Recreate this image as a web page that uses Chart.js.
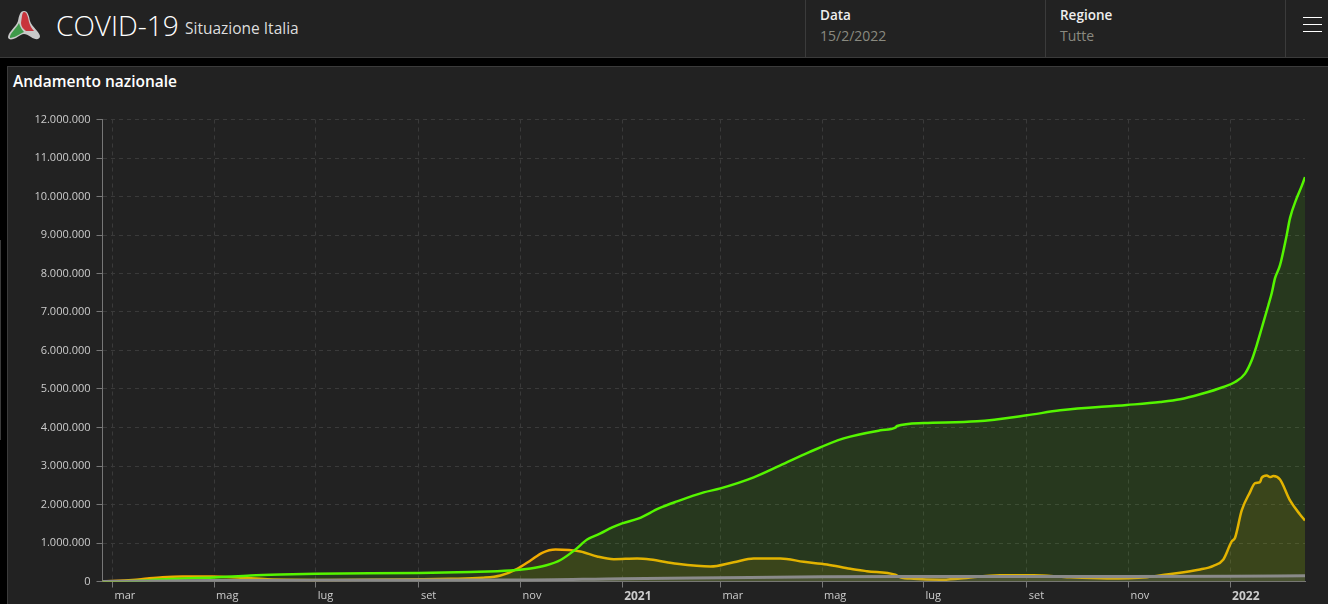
<!DOCTYPE html>
<html>
<head>
<meta charset="utf-8">
<title>COVID-19 Situazione Italia</title>
<script src="https://cdn.jsdelivr.net/npm/chart.js@4"></script>
<style>
    html, body { margin: 0; padding: 0; width: 1328px; height: 604px; overflow: hidden; background: #000; font-family: 'Open Sans', sans-serif; }
    .abs { position: absolute; white-space: nowrap; }
    #header { position: absolute; left: 0; top: 0; width: 1328px; height: 57px; background: #222; border-bottom: 1px solid #3b3b3b; }
    .divider { position: absolute; top: 0; width: 1px; height: 57px; background: #3b3b3b; }
    .burger { position: absolute; left: 1303px; width: 19px; height: 1px; background: #fff; }
    #panel { position: absolute; left: 7px; top: 66px; width: 1321px; height: 538px; background: #222; border-left: 1px solid #3b3b3b; border-top: 1px solid #3b3b3b; }
    #edge { position: absolute; left: 0; top: 240px; width: 1px; height: 200px; background: #3b3b3b; }
    #wrap { position: absolute; left: 8px; top: 100px; width: 1320px; height: 504px; }
</style>
</head>
<body>
<div id="header">
    <svg class="abs" style="left:7px;top:10px" width="34" height="31" viewBox="0 0 34 31">
        <path d="M17 1 C21 1 22 6 23 11 C25 17 32 21 33 26 C33 30 28 30 24 27 C21 25 19 24 17 24 C15 24 12 26 9 28 C5 30 1 30 1 27 C2 21 9 17 11 11 C12 6 13 1 17 1 Z" fill="#c9c9c9"/>
        <path d="M17 2 C20 2 21 7 22 12 C23 16 25 19 27 21 L19 21 C16 19 14 16 14 13 C15 7 15 2 17 2 Z" fill="#c8343c"/>
        <path d="M12 13 C13 17 15 20 17 22 C13 24 7 28 3 28 C2 24 9 19 12 13 Z" fill="#3f9a4a"/>
    </svg>
    <div class="abs" style="left:56px;top:7px;font-size:28px;line-height:36px;font-weight:300;color:#fff">COVID-19</div>
    <div class="abs" style="left:185px;top:17px;font-size:15.5px;line-height:22px;color:#ddd">Situazione Italia</div>
    <div class="divider" style="left:805px"></div>
    <div class="divider" style="left:1045px"></div>
    <div class="divider" style="left:1285px"></div>
    <div class="abs" style="left:820px;top:6px;font-size:13.5px;line-height:18px;font-weight:600;color:#eee">Data</div>
    <div class="abs" style="left:820px;top:27px;font-size:14px;line-height:18px;color:#8a8a80">15/2/2022</div>
    <div class="abs" style="left:1060px;top:6px;font-size:13.5px;line-height:18px;font-weight:600;color:#eee">Regione</div>
    <div class="abs" style="left:1060px;top:27px;font-size:14px;line-height:18px;color:#8a8a80">Tutte</div>
    <div class="burger" style="top:17px"></div>
    <div class="burger" style="top:24px"></div>
    <div class="burger" style="top:31px"></div>
</div>
<div id="edge"></div>
<div id="panel">
    <div class="abs" style="left:5px;top:4px;font-size:15.5px;line-height:20px;font-weight:600;color:#fff">Andamento nazionale</div>
</div>
<div id="wrap"><canvas id="chart"></canvas></div>

<script>
// x values are days since 24/2/2020
const monthDays = [6, 67, 128, 190, 251, 312, 371, 432, 493, 555, 616, 677];
const monthLabels = ['mar', 'mag', 'lug', 'set', 'nov', '2021', 'mar', 'mag', 'lug', 'set', 'nov', '2022'];
const yTickLabels = ['0', '1.000.000', '2.000.000', '3.000.000', '4.000.000', '5.000.000', '6.000.000',
    '7.000.000', '8.000.000', '9.000.000', '10.000.000', '11.000.000', '12.000.000'];

const greenDays = [0, 17, 40, 67, 89, 107, 128, 190, 221, 245, 257, 266, 275, 284, 291, 299, 306, 312, 322, 334, 345,
    361, 371, 391, 407, 424, 445, 467, 476, 477, 493, 525, 555, 575, 615, 635, 647, 659, 673, 680, 686, 690, 693, 696,
    700, 702, 704, 707, 711, 713, 717, 720, 722];
const greenValues = [0, 13000, 65000, 104000, 156000, 182000, 203000, 221000, 247000, 286000, 338000, 416000, 559000,
    832000, 1092000, 1248000, 1404000, 1508000, 1638000, 1898000, 2080000, 2314000, 2418000, 2704000, 3016000, 3354000,
    3718000, 3926000, 3996000, 4038000, 4116000, 4160000, 4316000, 4446000, 4584000, 4662000, 4732000, 4862000, 5052000,
    5182000, 5400000, 5746000, 6136000, 6578000, 7176000, 7488000, 7878000, 8216000, 8996000, 9438000, 9958000, 10270000,
    10504000];

const orangeDays = [0, 18, 27, 36, 48, 66, 83, 99, 138, 209, 228, 239, 249, 257, 264, 272, 287, 297, 307, 321, 329, 345,
    365, 379, 391, 407, 421, 435, 449, 459, 476, 479, 487, 503, 515, 539, 559, 579, 603, 627, 639, 659, 667, 673, 678,
    680, 684, 689, 692, 695, 696, 699, 701, 703, 707, 713, 719, 722];
const orangeValues = [0, 36000, 78000, 112000, 130000, 130000, 96000, 60000, 42000, 70000, 96000, 156000, 330000, 546000,
    746000, 832000, 780000, 650000, 580000, 598000, 572000, 460000, 390000, 502000, 598000, 598000, 512000, 442000,
    330000, 268000, 174000, 112000, 70000, 44000, 78000, 164000, 164000, 112000, 78000, 112000, 182000, 312000, 408000,
    572000, 1040000, 1136000, 1846000, 2322000, 2556000, 2582000, 2696000, 2756000, 2712000, 2738000, 2652000, 2106000,
    1742000, 1586000];

const greyDays = [0, 36, 67, 128, 190, 251, 312, 371, 432, 493, 555, 616, 677, 722];
const greyValues = [0, 12000, 28000, 35000, 36000, 39000, 74000, 98000, 121000, 128000, 130000, 132000, 137000, 150000];

const toPoints = (days, values) => days.map((d, i) => ({ x: d, y: values[i] }));

const ctx = document.getElementById('chart');

new Chart(ctx, {
    type: 'line',
    data: {
        datasets: [{
            label: 'Deceduti',
            data: toPoints(greyDays, greyValues),
            borderColor: '#8a8a8a',
            borderWidth: 3,
            backgroundColor: 'rgba(140,140,140,0.2)',
            fill: 'origin'
        }, {
            label: 'Guariti',
            data: toPoints(greenDays, greenValues),
            borderColor: '#55f500',
            backgroundColor: 'rgba(85,255,0,0.1)',
            fill: 'origin'
        }, {
            label: 'Positivi',
            data: toPoints(orangeDays, orangeValues),
            borderColor: '#f2ab00',
            backgroundColor: 'rgba(245,176,0,0.1)',
            fill: 'origin'
        }]
    },
    options: {
        responsive: true,
        maintainAspectRatio: false,
        animation: false,
        elements: {
            point: { radius: 0 },
            line: { borderWidth: 2.5, cubicInterpolationMode: 'monotone' }
        },
        layout: {
            padding: { top: 19.5, right: 23, left: 0, bottom: 0 }
        },
        scales: {
            x: {
                type: 'linear',
                min: 0,
                max: 722,
                afterBuildTicks: (scale) => {
                    scale.ticks = monthDays.map((d) => ({ value: d }));
                },
                afterFit: (scale) => {
                    scale.height = 22.5;
                    scale.paddingLeft = 0;
                    scale.paddingRight = 0;
                },
                border: { color: '#777', dash: [4, 4] },
                grid: { color: '#3a3a3a', tickColor: '#777', tickLength: 6 },
                ticks: {
                    color: '#ccc',
                    autoSkip: false,
                    maxRotation: 0,
                    align: 'start',
                    labelOffset: 2,
                    padding: 2,
                    font: (c) => {
                        const isYear = monthLabels[c.index] && monthLabels[c.index].length === 4;
                        return { family: "'Open Sans', sans-serif", size: isYear ? 12 : 11, weight: isYear ? 'bold' : 'normal' };
                    },
                    callback: (v, i) => monthLabels[i]
                }
            },
            y: {
                min: 0,
                max: 12000000,
                afterFit: (scale) => {
                    scale.width = 94.5;
                    scale.paddingTop = 0;
                    scale.paddingBottom = 0;
                },
                border: { color: '#777', dash: [4, 4] },
                grid: { color: '#3a3a3a', tickColor: '#777', tickLength: 6 },
                ticks: {
                    color: '#ccc',
                    stepSize: 1000000,
                    padding: 6,
                    font: { family: "'Open Sans', sans-serif", size: 11 },
                    callback: (v, i) => yTickLabels[i]
                }
            }
        },
        plugins: {
            legend: { display: false },
            tooltip: { enabled: false }
        }
    }
});
</script>
</body>
</html>
